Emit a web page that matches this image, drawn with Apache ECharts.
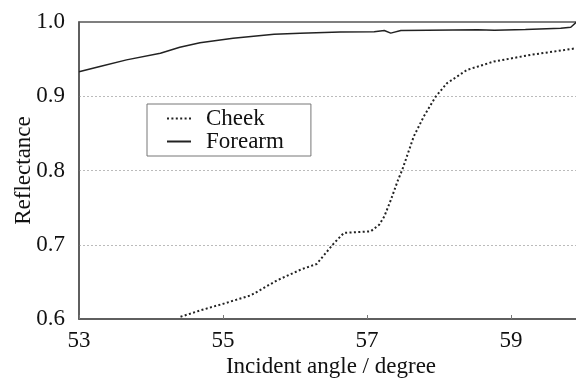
<!DOCTYPE html>
<html>
<head>
<meta charset="utf-8">
<script src="https://cdn.jsdelivr.net/npm/echarts@6/dist/echarts.min.js"></script>
<style>html,body{margin:0;padding:0;background:#fff}#c{width:576px;height:380px}</style>
</head>
<body>
<div id="c"></div>
<script>
const seriesNames = ['Cheek', 'Forearm'];
const xTicks = [53, 55, 57, 59];
const yTicks = [0.6, 0.7, 0.8, 0.9, 1.0];

const cheekX = [54.41, 54.70, 55.02, 55.39, 55.75, 56.09, 56.30, 56.54, 56.68, 57.05, 57.17, 57.24, 57.33, 57.43, 57.49, 57.65, 57.79, 57.95, 58.11, 58.39, 58.76, 59.27, 59.91];
const cheekY = [0.603, 0.612, 0.621, 0.632, 0.652, 0.667, 0.674, 0.702, 0.716, 0.718, 0.727, 0.738, 0.760, 0.787, 0.801, 0.846, 0.873, 0.899, 0.9175, 0.9355, 0.9467, 0.9557, 0.9647];

const forearmX = [53.00, 53.29, 53.66, 54.13, 54.40, 54.68, 55.14, 55.71, 56.07, 56.63, 57.10, 57.24, 57.33, 57.47, 57.84, 58.54, 58.77, 59.20, 59.69, 59.83, 59.91];
const forearmY = [0.933, 0.940, 0.949, 0.958, 0.966, 0.972, 0.978, 0.9835, 0.985, 0.9866, 0.987, 0.9885, 0.985, 0.9885, 0.989, 0.9895, 0.989, 0.990, 0.9915, 0.993, 1.0];

const pairs = (xs, ys) => xs.map((x, i) => [x, ys[i]]);

const font = 'Liberation Serif, Times New Roman, serif';
const chart = echarts.init(document.getElementById('c'));
chart.setOption({
  animation: false,
  backgroundColor: '#fff',
  textStyle: { fontFamily: font },
  grid: { left: 79, top: 22, right: -7, bottom: 61, containLabel: false, outerBoundsMode: 'none',
    show: true, borderColor: '#555', borderWidth: 1.5, backgroundColor: 'transparent' },
  legend: {
    orient: 'vertical', left: 147, top: 104,
    padding: [3, 27, 3, 19], itemGap: 0, itemWidth: 24, itemHeight: 23,
    backgroundColor: '#fff', borderColor: '#777', borderWidth: 1, borderRadius: 0,
    itemStyle: { opacity: 0 },
    textStyle: { fontFamily: font, fontSize: 23, color: '#111', padding: [0, 0, 0, 10] },
    data: seriesNames
  },
  xAxis: {
    type: 'value', min: xTicks[0], max: 60, interval: 2,
    name: 'Incident angle / degree', nameLocation: 'middle', nameGap: 36, nameMoveOverlap: false,
    nameTextStyle: { fontFamily: font, fontSize: 23, color: '#111' },
    axisLine: { show: true, lineStyle: { color: '#555', width: 1.5 } },
    axisTick: { show: true, inside: true, length: 4, lineStyle: { color: '#777' } },
    axisLabel: { fontFamily: font, fontSize: 23, color: '#111', margin: 10, showMaxLabel: false,
      formatter: v => xTicks.includes(v) ? String(v) : '' },
    splitLine: { show: false }
  },
  yAxis: {
    type: 'value', min: yTicks[0], max: yTicks[yTicks.length - 1], interval: 0.1,
    name: 'Reflectance', nameLocation: 'middle', nameGap: 44, nameMoveOverlap: false,
    nameTextStyle: { fontFamily: font, fontSize: 23, color: '#111' },
    axisLine: { show: true, lineStyle: { color: '#555', width: 1.5 } },
    axisTick: { show: false },
    axisLabel: { fontFamily: font, fontSize: 23, color: '#111', margin: 14, formatter: v => v.toFixed(1) },
    splitLine: { show: true, showMinLine: false, showMaxLine: false, lineStyle: { color: '#bbb', type: [2, 2], width: 1 } }
  },
  series: [
    {
      name: seriesNames[0], type: 'line', showSymbol: false, symbol: 'none', smooth: false,
      data: pairs(cheekX, cheekY),
      lineStyle: { color: '#222', width: 2, type: [2, 2.4] },
      itemStyle: { color: '#222' }
    },
    {
      name: seriesNames[1], type: 'line', showSymbol: false, symbol: 'none', smooth: false,
      data: pairs(forearmX, forearmY),
      lineStyle: { color: '#222', width: 1.5, type: 'solid' },
      itemStyle: { color: '#222' }
    }
  ]
});
</script>
</body>
</html>
